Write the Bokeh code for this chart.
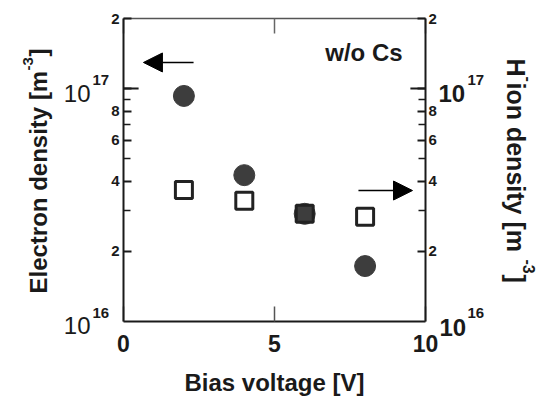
import math
from bokeh.plotting import figure
from bokeh.models import (Range1d, LogAxis, LinearAxis, FixedTicker, CustomJSTickFormatter,
                          Label, Arrow, NormalHead)
from bokeh.embed import file_html
from bokeh.resources import INLINE

# ---- data ----
bias_voltage = [2, 4, 6, 8]
electron_density = [9.3e16, 4.25e16, 2.9e16, 1.73e16]   # left axis, filled circles
h_minus_density = [3.67e16, 3.3e16, 2.9e16, 2.82e16]    # right axis, open squares

x_ticks = [0, 5, 10]
y_major_ticks = [2e16, 4e16, 6e16, 8e16, 1e17, 2e17]
y_minor_ticks = [3e16, 5e16, 7e16, 9e16]
decade_ticks = [1e16, 1e17]
x_limits = (0, 10)
y_limits = (1e16, 2e17)

# ---- layout (canvas pixels) ----
W, H = 539, 396
BOX_L, BOX_R, BOX_T, BOX_B = 123, 425, 18, 321
FONT = "Liberation Sans"
INK = "#1a1a1a"
MARK = "#3d3d3d"

# the plotting frame covers the whole canvas; axes are drawn at fixed locations
ppx = (BOX_R - BOX_L) / (x_limits[1] - x_limits[0])
x_view = (x_limits[0] - BOX_L / ppx, x_limits[1] + (W - BOX_R) / ppx)
lo, hi = math.log10(y_limits[0]), math.log10(y_limits[1])
ppd = (BOX_B - BOX_T) / (hi - lo)
y_view = (10 ** (lo - (H - BOX_B) / ppd), 10 ** (hi + BOX_T / ppd))

p = figure(width=W, height=H, output_backend="svg", toolbar_location=None,
           x_range=Range1d(*x_view), y_range=Range1d(*y_view), y_axis_type="log",
           min_border=0)
p.outline_line_color = None
p.grid.visible = False
p.background_fill_color = "white"
p.border_fill_color = "white"

ylab_fmt = CustomJSTickFormatter(code="""
const e = Math.floor(Math.log10(tick) + 1e-9);
const m = Math.round(tick / Math.pow(10, e));
return m == 1 ? '' : String(m);
""")
blank_fmt = CustomJSTickFormatter(code="return '';")


def style_y(ax, loc, standoff):
    ax.fixed_location = loc
    ax.bounds = y_limits
    ax.ticker = FixedTicker(ticks=y_major_ticks, minor_ticks=y_minor_ticks)
    ax.formatter = ylab_fmt
    ax.major_tick_in = 8
    ax.major_tick_out = 0
    ax.minor_tick_in = 7
    ax.minor_tick_out = 0
    ax.major_tick_line_width = 2
    ax.minor_tick_line_width = 1.5
    ax.major_tick_line_color = INK
    ax.minor_tick_line_color = INK
    ax.axis_line_width = 2
    ax.axis_line_color = INK
    ax.major_label_text_font = FONT
    ax.major_label_text_font_style = "bold"
    ax.major_label_text_font_size = "15px"
    ax.major_label_text_color = INK
    ax.major_label_standoff = standoff


style_y(p.yaxis[0], x_limits[0], 4)
right_axis = LogAxis()
style_y(right_axis, x_limits[1], 3)
p.add_layout(right_axis, "right")

xax = p.xaxis[0]
xax.fixed_location = y_limits[0]
xax.bounds = x_limits
xax.ticker = FixedTicker(ticks=x_ticks)
xax.major_tick_in = 15
xax.major_tick_out = 0
xax.minor_tick_in = 0
xax.minor_tick_out = 0
xax.major_tick_line_color = "#555555"
xax.major_tick_line_width = 1.5
xax.axis_line_width = 2
xax.axis_line_color = INK
xax.major_label_text_font = FONT
xax.major_label_text_font_style = "bold"
xax.major_label_text_font_size = "23px"
xax.major_label_text_color = INK
xax.major_label_standoff = 13

top_axis = LinearAxis(fixed_location=y_limits[1], bounds=x_limits,
                      ticker=FixedTicker(ticks=x_ticks), formatter=blank_fmt,
                      major_tick_in=15, major_tick_out=0, minor_tick_in=0, minor_tick_out=0,
                      major_tick_line_color="#666666", major_tick_line_width=1.5,
                      axis_line_color="#555555", axis_line_width=1.5,
                      major_label_text_font_size="1px", major_label_standoff=0)
p.add_layout(top_axis, "above")

# longer decade ticks (10^17) on both vertical axes
tick_len = 0.5
p.segment(x0=[x_limits[0], x_limits[1] - tick_len], x1=[x_limits[0] + tick_len, x_limits[1]],
          y0=[decade_ticks[1]] * 2, y1=[decade_ticks[1]] * 2, line_color=INK, line_width=2)

# markers
p.scatter(bias_voltage, electron_density, marker="circle", size=21,
          fill_color=MARK, line_color=MARK)
sq_fill = [MARK if abs(math.log10(e / h)) < 0.02 else "white"
           for e, h in zip(electron_density, h_minus_density)]
p.scatter(bias_voltage, h_minus_density, marker="square", size=17, line_width=3,
          fill_color=sq_fill, line_color="#222222")


def lab(text, x, y, xo, yo, size, bold=True, align="left", angle=0.0, baseline="middle"):
    p.add_layout(Label(text=text, x=x, y=y, x_offset=xo, y_offset=yo, angle=angle,
                       text_font=FONT, text_font_size=f"{size}px",
                       text_font_style="bold" if bold else "normal",
                       text_color=INK, text_align=align, text_baseline=baseline))


# decade labels 10^17 / 10^16
lab("10", x_limits[0], decade_ticks[1], -33, -5, 24, bold=False, align="right")
lab("17", x_limits[0], decade_ticks[1], -31, 9, 15, align="left")
lab("10", x_limits[0], decade_ticks[0], -33, -4, 24, bold=False, align="right")
lab("16", x_limits[0], decade_ticks[0], -31, 9, 15, align="left")
lab("10", x_limits[1], decade_ticks[1], 13, -5, 24, align="left")
lab("17", x_limits[1], decade_ticks[1], 42, 9, 15, align="left")
lab("10", x_limits[1], decade_ticks[0], 14, -6, 24, align="left")
lab("16", x_limits[1], decade_ticks[0], 42, 9, 15, align="left")

# left axis title (rotated, reading upward)
up = math.pi / 2
lab("Electron density [m", x_limits[0], y_limits[0], -85, 28, 24, align="left", angle=up)
lab("-3", x_limits[0], y_limits[0], -96, 251, 15, align="left", angle=up)
lab("]", x_limits[0], y_limits[0], -85, 265, 24, align="left", angle=up)

# right axis title (rotated, reading downward)
down = -math.pi / 2
lab("H", x_limits[1], y_limits[1], 90, -40, 25, align="left", angle=down)
lab("-", x_limits[1], y_limits[1], 103, -58, 16, align="left", angle=down)
lab(" ion density [m", x_limits[1], y_limits[1], 90, -64, 25, align="left", angle=down)
lab("-3", x_limits[1], y_limits[1], 103, -241, 16, align="left", angle=down)
lab("]", x_limits[1], y_limits[1], 90, -256, 25, align="left", angle=down)

# x axis title
lab("Bias voltage [V]", sum(x_limits) / 2, y_limits[0], 0, -61, 24, align="center")

# annotation text
lab("w/o Cs", 7.96, y_limits[1], 0, -34, 24, align="center")

# arrows pointing to the relevant axes
p.add_layout(Arrow(end=NormalHead(size=19, fill_color="black", line_color="black"),
                   x_start=2.32, y_start=1.295e17, x_end=0.66, y_end=1.295e17,
                   line_color="black", line_width=1.5))
p.add_layout(Arrow(end=NormalHead(size=19, fill_color="black", line_color="black"),
                   x_start=7.78, y_start=3.65e16, x_end=9.57, y_end=3.65e16,
                   line_color="black", line_width=1.5))

open("out.html", "w").write(file_html(p, INLINE))
